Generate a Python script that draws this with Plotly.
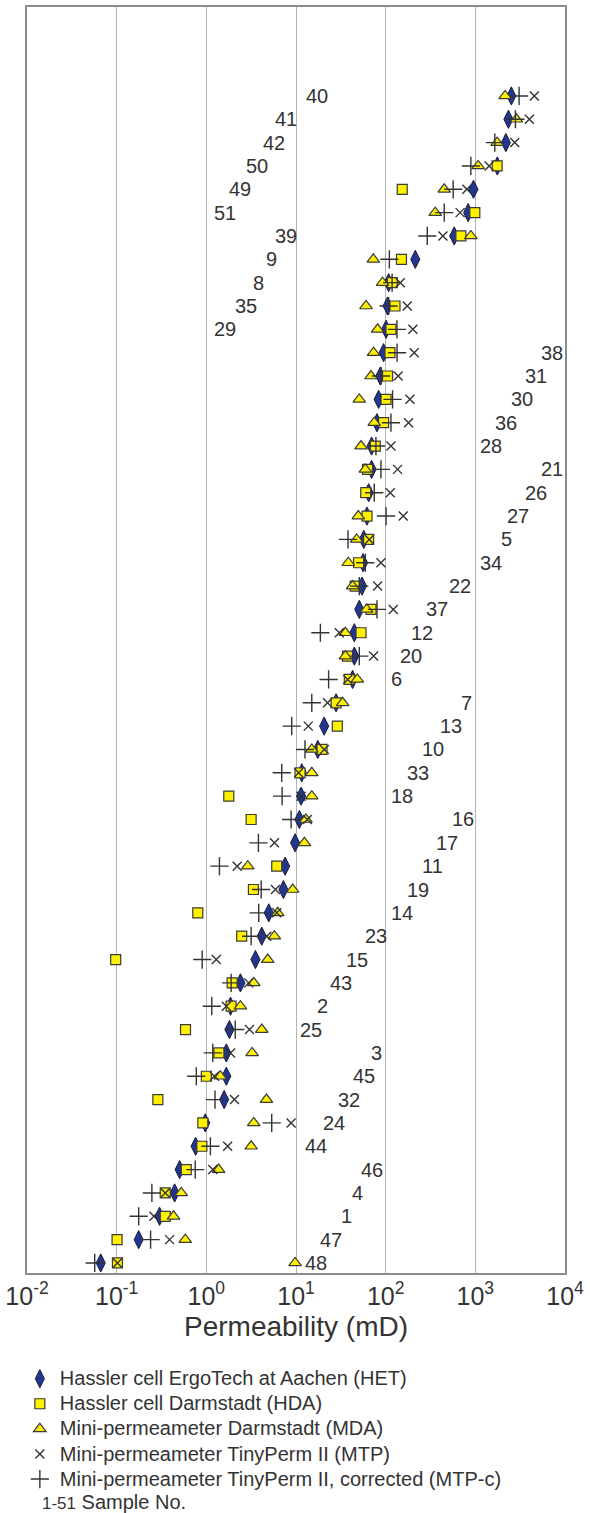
import plotly.graph_objects as go

# ---------------- data (top row to bottom row) ----------------
samples = [40, 41, 42, 50, 49, 51, 39, 9, 8, 35, 29, 38, 31, 30, 36, 28, 21, 26, 27, 5,
           34, 22, 37, 12, 20, 6, 7, 13, 10, 33, 18, 16, 17, 11, 19, 14, 23, 15, 43, 2,
           25, 3, 45, 32, 24, 44, 46, 4, 1, 47, 48]

het = [2520, 2340, 2190, 1760, 953, 832, 581, 214, 108, 105, 101, 94.8, 87.1, 83.4, 80, 69.7,
       69.7, 64.6, 61.9, 57.0, 56.0, 54.5, 50.8, 44.7, 44.7, 42.8, 28, 20.6, 17.5, 11.6, 11.4,
       10.9, 9.77, 7.56, 7.24, 4.97, 4.15, 3.53, 2.40, 1.86, 1.81, 1.67, 1.67, 1.58, 0.973,
       0.759, 0.504, 0.443, 0.301, 0.176, 0.0664]

hda = [None, None, None, 1750, 153, 987, 690, 150, 118.5, 127, 114.6, 111.7, 105, 101, 94.8,
       76.6, 62.8, 60.0, 62, 64.6, 49.9, 45.8, 68.6, 53.1, 37.5, 39.3, 28, 28.9, 19.5, 11.1,
       1.78, 3.16, None, 6.10, 3.35, 0.803, 2.48, 0.0975, 1.94, 1.89, 0.586, 1.38, 1.0, 0.288,
       0.914, 0.891, 0.597, 0.348, 0.348, 0.101, 0.102]

mda = [2150, 2870, 1750, 1075, 450, 357, 891, 72.8, 92.3, 60.4, 81.3, 73.3, 68.6, 50.8, 74.6,
       53.1, 59.3, None, 49.5, 47.4, 38.3, 42.8, 61.3, 35.5, 35.5, 48.3, 33.1, None, 15, 15,
       15, 12.9, 12.4, 2.90, 9.19, 6.25, 5.74, 4.84, 3.38, 2.40, 4.15, 3.24, 1.43, 4.68, 3.38,
       3.16, 1.37, 0.525, 0.431, 0.582, 9.77]

mtp = [4550, 4000, 2750, 1425, 804, 677, 435, None, 145.5, 174, 201, 208, 138, 186.6, 180,
       114.6, 135.8, 112.5, 157, 65.7, 88.6, 81.3, 121.6, 30.4, 73.3, 37.7, 22.5, 13.7, 20.7,
       10.7, 11.4, 13.4, 5.75, 2.21, 5.9, 6.1, 4.72, 1.29, 2.97, 1.67, 3.03, 1.86, 1.23, 2.06,
       8.82, 1.73, 1.18, 0.348, 0.260, 0.389, 0.102]

mtpc = [3075, 2800, 1650, 891, 566, 450, 291, 110, 118, 108, 133.6, 134, 88.6, 119.4, 114.6,
        77.9, 88.6, 74.6, 101, 38, 59.3, 50.8, 80, 18.7, 50.8, 23.1, 15, 8.96, 12.6, 6.93, 7.0,
        8.82, 3.81, 1.40, 4.09, 3.84, 3.16, 0.899, 1.89, 1.15, 2.10, 1.18, 0.773, 1.25, 5.36,
        1.11, 0.752, 0.247, 0.176, 0.239, 0.0569]

# sample-number label positions (log10 mD, left edge of text)
label_logx = [1.094, 0.748, 0.615, 0.425, 0.225, 0.058, 0.748, 0.648, 0.503, 0.292, 0.058,
              3.710, 3.532, 3.376, 3.198, 3.031, 3.710, 3.532, 3.332, 3.265, 3.031,
              2.686, 2.430, 2.263, 2.140, 2.040, 2.820, 2.586, 2.385, 2.218, 2.040,
              2.719, 2.541, 2.385, 2.218, 2.040, 1.751, 1.539, 1.361, 1.216, 1.027,
              1.817, 1.617, 1.450, 1.283, 1.082, 1.706, 1.606, 1.483, 1.249, 1.082]

tick_vals = [0.01, 0.1, 1, 10, 100, 1000, 10000]
tick_text = ["10<sup>-2</sup>", "10<sup>-1</sup>", "10<sup>0</sup>", "10<sup>1</sup>",
             "10<sup>2</sup>", "10<sup>3</sup>", "10<sup>4</sup>"]

series_names = ["Hassler cell ErgoTech at Aachen (HET)",
                "Hassler cell Darmstadt (HDA)",
                "Mini-permeameter Darmstadt (MDA)",
                "Mini-permeameter TinyPerm II (MTP)",
                "Mini-permeameter TinyPerm II, corrected (MTP-c)"]

# ---------------- figure ----------------
rows = list(range(len(samples)))
FONT = "Liberation Sans, Arial, Helvetica, sans-serif"
NAVY = "#22358f"
YELLOW = "#fff000"
EDGE = "#3a3a3a"


def big(name):
    return "<span style='font-size:20px'>" + name + "</span>"


fig = go.Figure()
fig.add_trace(go.Scatter(x=het, y=rows, mode="markers", name=big(series_names[0]),
                         marker=dict(symbol="diamond-tall", size=13, color=NAVY,
                                     line=dict(color="#1b1b3a", width=1))))
fig.add_trace(go.Scatter(x=hda, y=rows, mode="markers", name=big(series_names[1]),
                         marker=dict(symbol="square", size=10, color=YELLOW,
                                     line=dict(color=EDGE, width=1.2))))
fig.add_trace(go.Scatter(x=mda, y=rows, mode="markers", name=big(series_names[2]),
                         marker=dict(symbol="triangle-up", size=11, color=YELLOW,
                                     line=dict(color=EDGE, width=1.2))))
fig.add_trace(go.Scatter(x=mtp, y=rows, mode="markers", name=big(series_names[3]),
                         marker=dict(symbol="x-thin", size=9, color="#333",
                                     line=dict(color="#333", width=1.4))))
fig.add_trace(go.Scatter(x=mtpc, y=rows, mode="markers", name=big(series_names[4]),
                         marker=dict(symbol="cross-thin", size=13, color="#333",
                                     line=dict(color="#333", width=1.4))))

for s, lx, r in zip(samples, label_logx, rows):
    fig.add_annotation(x=lx, y=r, xref="x", yref="y", text=str(s), showarrow=False,
                       xanchor="left", yanchor="middle",
                       font=dict(family=FONT, size=20, color="#333"))

fig.add_annotation(x=0.026, y=-0.1805, xref="paper", yref="paper", xanchor="left",
                   yanchor="middle", showarrow=False, borderpad=0,
                   text="<span style='font-size:17px'>1-51</span> Sample No.",
                   font=dict(family=FONT, size=20, color="#333"))

fig.update_xaxes(type="log", range=[-2, 4], tickvals=tick_vals, ticktext=tick_text,
                 showgrid=True, gridcolor="#b4b4b4", gridwidth=1,
                 showline=True, mirror=True, linecolor="#8a8a8a", linewidth=1.5,
                 ticks="", tickfont=dict(family=FONT, size=25, color="#333"),
                 title=dict(text="Permeability (mD)", standoff=8,
                            font=dict(family=FONT, size=28, color="#333")),
                 zeroline=False)
fig.update_yaxes(range=[50.43, -3.81], showgrid=False, showticklabels=False, ticks="",
                 showline=True, mirror=True, linecolor="#8a8a8a", linewidth=1.5,
                 zeroline=False)

fig.update_layout(width=590, height=1513,
                  margin=dict(l=27, r=25, t=7, b=240, autoexpand=False),
                  paper_bgcolor="white", plot_bgcolor="white",
                  font=dict(family=FONT, color="#333"),
                  showlegend=True,
                  legend=dict(x=-0.0133, y=0.1004, xanchor="left", yanchor="top",
                              yref="container",
                              font=dict(family=FONT, size=17, color="#333"),
                              bgcolor="rgba(0,0,0,0)", tracegroupgap=0,
                              itemwidth=30))

fig.write_html("out.html")
